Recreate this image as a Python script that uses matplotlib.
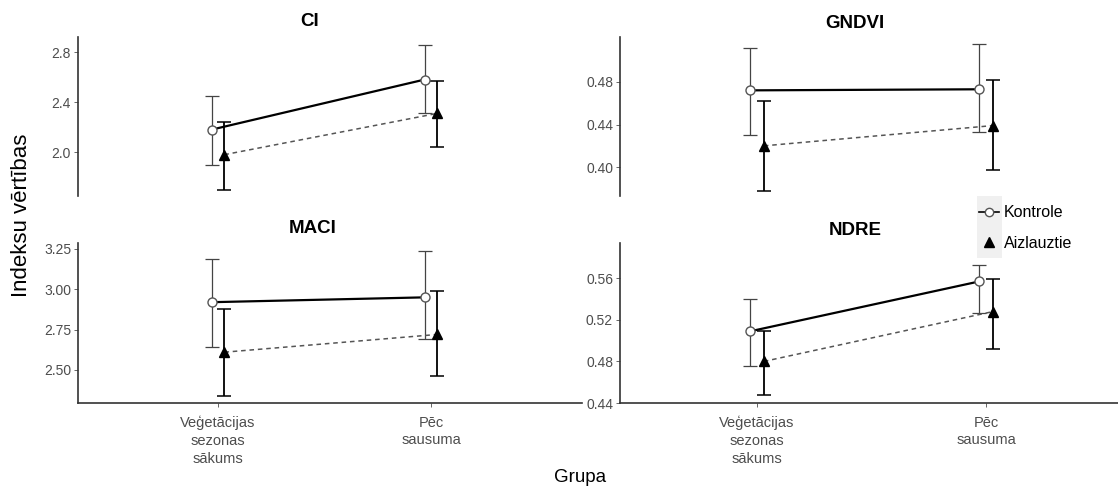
import numpy as np
import matplotlib
matplotlib.use("Agg")
from matplotlib import pyplot as plt
from matplotlib.lines import Line2D
from matplotlib.patches import Rectangle

plt.rcParams['font.family'] = ['Liberation Sans', 'DejaVu Sans']

# Data
indices = ["CI", "GNDVI", "MACI", "NDRE"]
groups = ["Veģetācijas\nsezonas\nsākums", "Pēc\nsausuma"]
series = ["Kontrole", "Aizlauztie"]

kontrole_mean = {"CI": [2.18, 2.58], "GNDVI": [0.472, 0.473],
                 "MACI": [2.92, 2.95], "NDRE": [0.509, 0.557]}
kontrole_low = {"CI": [1.90, 2.31], "GNDVI": [0.430, 0.433],
                "MACI": [2.64, 2.69], "NDRE": [0.476, 0.527]}
kontrole_high = {"CI": [2.45, 2.86], "GNDVI": [0.512, 0.515],
                 "MACI": [3.19, 3.24], "NDRE": [0.540, 0.573]}

aizl_mean = {"CI": [1.98, 2.31], "GNDVI": [0.420, 0.439],
             "MACI": [2.61, 2.72], "NDRE": [0.480, 0.528]}
aizl_low = {"CI": [1.70, 2.04], "GNDVI": [0.378, 0.397],
            "MACI": [2.34, 2.46], "NDRE": [0.448, 0.492]}
aizl_high = {"CI": [2.24, 2.57], "GNDVI": [0.462, 0.482],
             "MACI": [2.88, 2.99], "NDRE": [0.509, 0.559]}

yticks = {"CI": [2.0, 2.4, 2.8], "GNDVI": [0.40, 0.44, 0.48],
          "MACI": [2.50, 2.75, 3.00, 3.25], "NDRE": [0.44, 0.48, 0.52, 0.56]}
yfmt = {"CI": "{:.1f}", "GNDVI": "{:.2f}", "MACI": "{:.2f}", "NDRE": "{:.2f}"}
ylims = {"CI": (1.65, 2.92), "GNDVI": (0.373, 0.522),
         "MACI": (2.295, 3.287), "NDRE": (0.44, 0.594)}

W, H = 1118, 490
fig = plt.figure(figsize=(W / 100, H / 100), dpi=100)

# panel boxes in pixels: left, top, right, bottom
boxes = {"CI": (78, 37, 582, 196), "GNDVI": (620, 37, 1118, 196),
         "MACI": (78, 243, 582, 403), "NDRE": (620, 243, 1118, 403)}
xlims = {"CI": (0.343, 2.709), "MACI": (0.343, 2.709),
         "GNDVI": (0.402, 2.576), "NDRE": (0.402, 2.576)}
titles_px = {"CI": (310, 22), "GNDVI": (855, 23), "MACI": (313, 228), "NDRE": (855, 230)}

grey = "#4d4d4d"
dodge = 0.03
x = np.arange(1, len(groups) + 1)

for name in indices:
    l, t, r, b = boxes[name]
    ax = fig.add_axes([l / W, 1 - b / H, (r - l) / W, (b - t) / H])
    bottom_row = name in ("MACI", "NDRE")

    # Kontrole
    km = np.array(kontrole_mean[name])
    ax.errorbar(x - dodge, km,
                yerr=[km - np.array(kontrole_low[name]), np.array(kontrole_high[name]) - km],
                fmt="none", ecolor="#444444", elinewidth=0.9, capsize=5, capthick=0.9, zorder=2)
    ax.plot(x - dodge, km, color="black", lw=1.6, zorder=3)
    ax.plot(x - dodge, km, "o", ms=6.5, mfc="white", mec="#555555", mew=1.0, zorder=4)

    # Aizlauztie
    am = np.array(aizl_mean[name])
    ax.errorbar(x + dodge, am,
                yerr=[am - np.array(aizl_low[name]), np.array(aizl_high[name]) - am],
                fmt="none", ecolor="black", elinewidth=1.3, capsize=5, capthick=1.1, zorder=2)
    ax.plot(x + dodge, am, color="#555555", lw=1.1, ls=(0, (3, 2.5)), zorder=3)
    ax.plot(x + dodge, am, "^", ms=7.5, color="black", zorder=4)

    ax.set_xlim(*xlims[name])
    ax.set_ylim(*ylims[name])
    ax.set_yticks(yticks[name])
    ax.set_yticklabels([yfmt[name].format(v) for v in yticks[name]])

    for s in ("top", "right"):
        ax.spines[s].set_visible(False)
    ax.spines["left"].set_color("#333333")
    ax.spines["left"].set_linewidth(1.2)
    ax.tick_params(axis="y", length=3, width=0.6, color=grey, labelcolor=grey,
                   labelsize=10, pad=2)

    if bottom_row:
        ax.spines["bottom"].set_color("#333333")
        ax.spines["bottom"].set_linewidth(1.2)
        ax.set_xticks(x)
        ax.set_xticklabels(groups, linespacing=1.35)
        ax.tick_params(axis="x", length=3, width=0.6, color=grey, labelcolor=grey,
                       labelsize=10.5, pad=6)
    else:
        ax.spines["bottom"].set_visible(False)
        ax.set_xticks([])

    tx, ty = titles_px[name]
    fig.text(tx / W, 1 - ty / H, name, ha="center", va="center",
             fontsize=13.5, fontweight="bold")

fig.text(22 / W, 1 - 215 / H, "Indeksu vērtības", rotation=90,
         ha="center", va="center", fontsize=16)
fig.text(580 / W, 1 - 477 / H, "Grupa", ha="center", va="center", fontsize=13.5)

# legend with grey key background
fig.patches.append(Rectangle((977 / W, 1 - 258 / H), 25 / W, 62 / H,
                             transform=fig.transFigure, facecolor="#f0f0f0",
                             edgecolor="none", zorder=0))
handles = [
    Line2D([0], [0], color="black", lw=1.2, marker="o", ms=6, mfc="white", mec="#555555"),
    Line2D([0], [0], color="black", lw=0, marker="^", ms=7),
]
fig.legend(handles, series, loc="center left", bbox_to_anchor=(979 / W, 1 - 228 / H),
           frameon=False, fontsize=11.5, handlelength=1.25, handletextpad=0.3,
           labelspacing=0.95, borderpad=0, borderaxespad=0)

fig.savefig("out.png", dpi=100)
